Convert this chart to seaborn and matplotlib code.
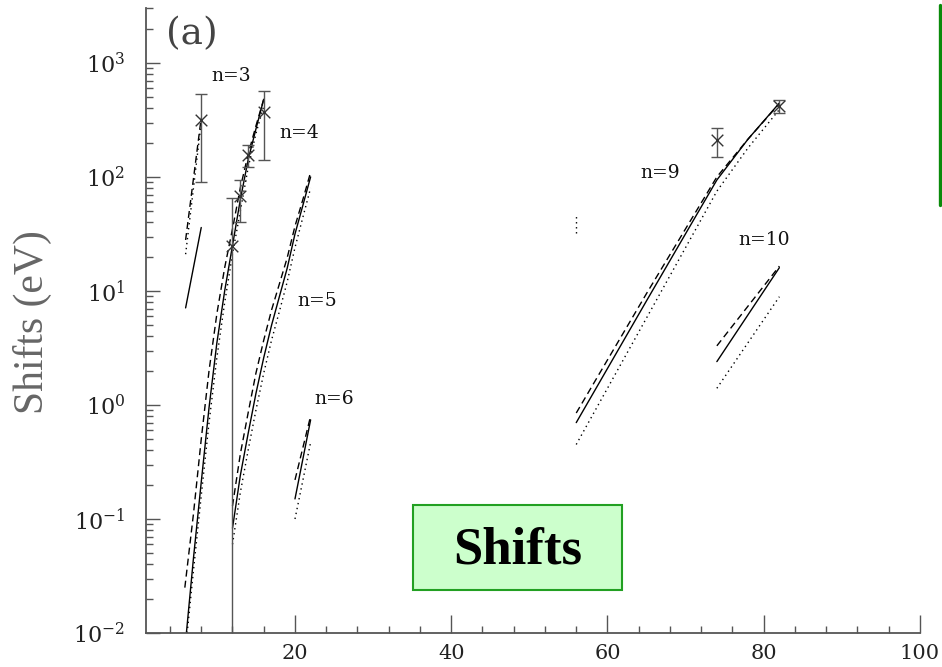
import numpy as np
import pandas as pd
import matplotlib
matplotlib.use("Agg")
import matplotlib.pyplot as plt
import seaborn as sns
from matplotlib.lines import Line2D
from matplotlib.patches import Rectangle
from matplotlib.ticker import LogLocator, MultipleLocator, FixedLocator, LogFormatterMathtext, NullFormatter

# ---------------- data ----------------
# n=3 group
n3_x = [6, 8]
n3_solid = [7.1, 36]
n3_dashed = [28, 330]
n3_dotted = [21, 300]

# n=4 group
n4_x_solid = [6.1, 7, 8, 9, 10, 11, 12, 13, 14, 15, 16]
n4_solid = [0.01, 0.045, 0.21, 0.95, 3.5, 10, 25, 63, 141, 263, 480]
n4_x_dashed = [5.9, 7, 8, 9, 10, 11, 12, 13, 14, 15, 16]
n4_dashed = [0.025, 0.11, 0.5, 2.0, 6.3, 16, 35, 80, 158, 280, 480]
n4_x_dotted = [6.2, 7, 8, 9, 10, 11, 12, 13, 14, 15, 16]
n4_dotted = [0.01, 0.035, 0.16, 0.7, 2.6, 7.9, 21, 50, 120, 240, 417]

# n=5 group
n5_x = [12, 13, 14, 15, 16, 17, 18, 19, 20, 21, 22]
n5_solid = [0.083, 0.24, 0.56, 1.26, 2.6, 5.0, 8.9, 15.8, 31.6, 56, 100]
n5_dashed = [0.13, 0.37, 0.85, 1.9, 3.7, 6.8, 11.5, 19.5, 37, 63, 110]
n5_dotted = [0.06, 0.17, 0.4, 0.9, 1.9, 3.7, 6.6, 12, 24, 44, 80]

# n=6 group
n6_x = [20, 22]
n6_solid = [0.15, 0.74]
n6_dashed = [0.22, 0.8]
n6_dotted = [0.1, 0.47]

# stray dotted piece near x=56
n8_x = [56, 56]
n8_dotted = [32, 46]

# n=9 group
n9_x = [56, 65, 74, 78, 82]
n9_solid = [0.7, 8.2, 94, 215, 445]
n9_dashed = [0.85, 9.5, 100, 215, 440]
n9_dotted = [0.45, 5.8, 75, 180, 390]

# n=10 group
n10_x = [74, 82]
n10_solid = [2.4, 16]
n10_dashed = [3.3, 16.5]
n10_dotted = [1.4, 8.9]

# measured points with error bars
pt_x = [8, 12, 13, 14, 16, 74, 82]
pt_y = [316, 25, 68, 155, 372, 210, 420]
pt_lo = [90, 0.001, 40, 123, 141, 150, 365]
pt_hi = [535, 65, 94, 190, 570, 270, 474]

group_labels = ["n=3", "n=4", "n=5", "n=6", "n=9", "n=10"]
label_x = [11.8, 20.6, 22.9, 25.0, 66.8, 80.1]
label_y = [770, 243, 8.2, 1.13, 108, 28]

x_ticks = [20, 40, 60, 80, 100]

# ---------------- build long table ----------------
curves = [
    ("n3s", "solid", n3_x, n3_solid), ("n3d", "dashed", n3_x, n3_dashed), ("n3o", "dotted", n3_x, n3_dotted),
    ("n4s", "solid", n4_x_solid, n4_solid), ("n4d", "dashed", n4_x_dashed, n4_dashed), ("n4o", "dotted", n4_x_dotted, n4_dotted),
    ("n5s", "solid", n5_x, n5_solid), ("n5d", "dashed", n5_x, n5_dashed), ("n5o", "dotted", n5_x, n5_dotted),
    ("n6s", "solid", n6_x, n6_solid), ("n6d", "dashed", n6_x, n6_dashed), ("n6o", "dotted", n6_x, n6_dotted),
    ("n8o", "dotted", n8_x, n8_dotted),
    ("n9s", "solid", n9_x, n9_solid), ("n9d", "dashed", n9_x, n9_dashed), ("n9o", "dotted", n9_x, n9_dotted),
    ("n10s", "solid", n10_x, n10_solid), ("n10d", "dashed", n10_x, n10_dashed), ("n10o", "dotted", n10_x, n10_dotted),
]
rows = []
for uid, kind, xs, ys in curves:
    for i, (a, b) in enumerate(zip(xs, ys)):
        rows.append({"unit": uid, "kind": kind, "x": a, "y": b})
df = pd.DataFrame(rows)

# ---------------- figure ----------------
sns.set_theme(style="ticks")
plt.rcParams["font.family"] = ["DejaVu Serif"]
plt.rcParams["mathtext.fontset"] = "dejavuserif"

W, H = 942, 667
fig = plt.figure(figsize=(W / 100, H / 100), dpi=100)
fig.patch.set_facecolor("white")
ax = fig.add_axes([146 / W, 34 / H, (920 - 146) / W, (633 - 8) / H])
ax.set_facecolor("white")

sns.lineplot(data=df, x="x", y="y", units="unit", style="kind", estimator=None,
             dashes={"solid": "", "dashed": (5, 3), "dotted": (1, 2.6)},
             color="black", linewidth=1.0, legend=False, sort=False, ax=ax)

ax.set_yscale("log")
ax.set_xlim(0.93, 100)
ax.set_ylim(0.01, 3030)

# error bars and crosses
yerr = [np.array(pt_y) - np.array(pt_lo), np.array(pt_hi) - np.array(pt_y)]
ax.errorbar(pt_x, pt_y, yerr=yerr, fmt="none", ecolor="#555555", elinewidth=1.0,
            capsize=4.5, capthick=1.0, zorder=3)
sns.scatterplot(x=pt_x, y=pt_y, marker="x", s=70, color="#333333", linewidth=1.0, ax=ax, zorder=4)

# group labels
for t, lx, ly in zip(group_labels, label_x, label_y):
    ax.text(lx, ly, t, fontsize=13.5, ha="center", va="center", color="#111111")

fig.text(192 / W, 1 - 34 / H, "(a)", fontsize=27, ha="center", va="center", color="#444444")

# spines and ticks
for s in ["top", "right"]:
    ax.spines[s].set_visible(False)
for s in ["left", "bottom"]:
    ax.spines[s].set_color("#555555")
    ax.spines[s].set_linewidth(1.3)

ax.xaxis.set_major_locator(FixedLocator(x_ticks))
ax.xaxis.set_minor_locator(MultipleLocator(4))
ax.yaxis.set_major_locator(LogLocator(base=10, numticks=20))
ax.yaxis.set_minor_locator(LogLocator(base=10, subs=np.arange(2, 10), numticks=20))
ax.yaxis.set_major_formatter(LogFormatterMathtext())
ax.yaxis.set_minor_formatter(NullFormatter())

ax.tick_params(axis="both", which="both", bottom=True, left=True, top=False, right=False)
ax.tick_params(axis="x", which="major", direction="in", length=13, width=1.0, color="#555555",
               pad=8, labelsize=15, labelcolor="#222222")
ax.tick_params(axis="x", which="minor", direction="in", length=5, width=1.0, color="#555555")
ax.tick_params(axis="y", which="major", direction="in", length=10, width=1.0, color="#555555",
               pad=15, labelsize=16, labelcolor="#222222")
ax.tick_params(axis="y", which="minor", direction="in", length=5, width=1.0, color="#555555")

ax.set_xlabel("")
ax.set_ylabel("")
fig.text(32 / W, 1 - 322 / H, "Shifts (eV)", rotation=90, fontsize=30, ha="center", va="center",
         color="#666666", family=["Liberation Serif"])

# green box with "Shifts"
fig.add_artist(Rectangle((413 / W, 1 - 590 / H), 209 / W, 85 / H, transform=fig.transFigure,
                         facecolor="#ccffcc", edgecolor="#22a022", linewidth=1.5))
fig.text(518 / W, 1 - 550 / H, "Shifts", fontsize=38, fontweight="bold", ha="center", va="center",
         color="black", family=["Liberation Serif"])

# green vertical bar at right edge
fig.add_artist(Line2D([940 / W, 940 / W], [1 - 5 / H, 1 - 205 / H], transform=fig.transFigure,
                      color="#0a8a0a", linewidth=2.4))

fig.savefig("out.png", dpi=100)
